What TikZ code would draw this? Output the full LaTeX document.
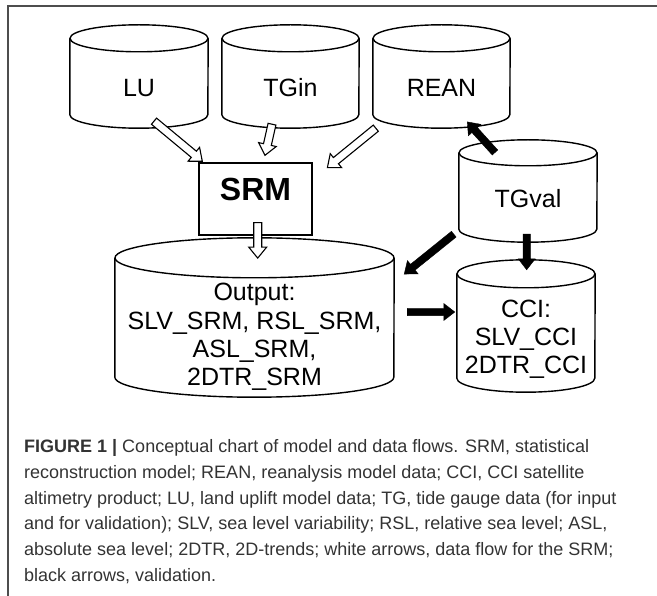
\documentclass[tikz,border=0pt]{standalone}
\usepackage{fontspec}
\setmainfont{Liberation Sans}
\usetikzlibrary{calc}
\definecolor{framegray}{HTML}{4D4D4D}
\definecolor{captiongray}{HTML}{333333}
\newcommand\cylbody[3]{% node, rx, ry
  \draw[cylline] ($(#1.north)+(0,-#3)$) ellipse [x radius=#2, y radius=#3];
  \draw[cylline] ($(#1.north west)+(0,-#3)$) -- ($(#1.south west)+(0,#3)$)
     arc[start angle=180, end angle=360, x radius=#2, y radius=#3]
     -- ($(#1.north east)+(0,-#3)$);
}
\newcommand\flowarrow[6]{% style, start, tip, half shaft, half head, head length
  \path ($(#3)!#6!(#2)$) coordinate (tmpH);
  \filldraw[#1] ($(#2)!#4!90:(#3)$) -- ($(tmpH)!#4!90:(#3)$) -- ($(tmpH)!#5!90:(#3)$)
     -- (#3) -- ($(tmpH)!#5!-90:(#3)$) -- ($(tmpH)!#4!-90:(#3)$) -- ($(#2)!#4!-90:(#3)$) -- cycle;
}
\tikzset{
  cyl/.style={draw=none, inner sep=0pt, text depth=0pt, font=\fontsize{25}{28.4}\selectfont},
  cylline/.style={line width=1.4pt},
  openarrow/.style={draw=black, fill=white, line width=1.1pt, line join=miter},
  valarrow/.style={draw=black, fill=black, line width=0.4pt, line join=miter},
  capline/.style={anchor=base west, inner sep=0pt, text=captiongray, font=\fontsize{18}{25.6}\selectfont},
}
\begin{document}
\begin{tikzpicture}[x=1pt,y=1pt]
\useasboundingbox (0,0) rectangle (657,-596);
% frame
\draw[framegray, line width=1.6pt] (657,-6) -- (8,-6) -- (8,-596);

% cylinders
\node[cyl, minimum width=138pt, minimum height=103pt, text height=40.4pt] (LU) at (139,-76.5) {LU};
\node[cyl, minimum width=137pt, minimum height=103pt, text height=40.4pt] (TGin) at (290.5,-76.5) {TGin};
\node[cyl, minimum width=137pt, minimum height=103pt, text height=40.4pt] (REAN) at (441.5,-76.5) {REAN};
\node[cyl, minimum width=138pt, minimum height=102pt, text height=32.6pt] (TGval) at (528,-191) {TGval};
\node[cyl, minimum width=279pt, minimum height=159pt, text height=137pt] (Output) at (254.5,-317.5)
  {\begin{tabular}[b]{@{}c@{}}Output:\\SLV\_SRM, RSL\_SRM,\\ASL\_SRM,\\2DTR\_SRM\end{tabular}};
\node[cyl, minimum width=138pt, minimum height=132pt, text height=96pt] (CCI) at (526,-326)
  {\begin{tabular}[b]{@{}c@{}}CCI:\\SLV\_CCI\\2DTR\_CCI\end{tabular}};
\cylbody{LU}{69}{13.5}
\cylbody{TGin}{68.5}{13.5}
\cylbody{REAN}{68.5}{13.5}
\cylbody{TGval}{69}{13}
\cylbody{Output}{139.5}{20}
\cylbody{CCI}{69}{14}

% SRM box
\node[draw, line width=1.4pt, minimum width=113pt, minimum height=72pt, inner sep=0pt,
      text height=4pt, text depth=0pt, font=\bfseries\fontsize{32}{36}\selectfont] (SRM) at (255.5,-199) {SRM};

% arrow end points
\coordinate (a1s) at ($(LU.south)+(15,7)$);
\coordinate (a1t) at ($(SRM.north west)+(4,1)$);
\coordinate (a2s) at ($(TGin.south)+(-18.5,4)$);
\coordinate (a2t) at ($(SRM.north)+(9.5,7)$);
\coordinate (a3s) at ($(REAN.south west)+(3,0)$);
\coordinate (a3t) at ($(SRM.north east)+(14.7,-5.3)$);
\coordinate (a4s) at ($(SRM.south)+(2.2,13)$);
\coordinate (a4t) at ($(Output.north)+(3.2,-20.3)$);
\coordinate (b1s) at ($(TGval.north)+(-33,-12.7)$);
\coordinate (b1t) at ($(REAN.south)+(25.8,6.3)$);
\coordinate (b2s) at ($(TGval.south west)+(-5,8)$);
\coordinate (b2t) at ($(Output.north east)+(10,-36.3)$);
\coordinate (b3s) at ($(TGval.south)+(-1.3,8)$);
\coordinate (b3t) at ($(CCI.north)+(0.7,-10)$);
\coordinate (b4s) at ($(Output.east)+(13,5.5)$);
\coordinate (b4t) at ($(CCI.west)+(-2,14)$);

% white arrows: data flow
\flowarrow{openarrow}{a1s}{a1t}{4pt}{9pt}{11pt}
\flowarrow{openarrow}{a2s}{a2t}{4pt}{9pt}{11pt}
\flowarrow{openarrow}{a3s}{a3t}{4pt}{9pt}{11pt}
\flowarrow{openarrow}{a4s}{a4t}{4pt}{9pt}{11pt}
% black arrows: validation
\flowarrow{valarrow}{b1s}{b1t}{3.7pt}{8.5pt}{11pt}
\flowarrow{valarrow}{b2s}{b2t}{3.7pt}{8.5pt}{11pt}
\flowarrow{valarrow}{b3s}{b3t}{3.7pt}{8.5pt}{11pt}
\flowarrow{valarrow}{b4s}{b4t}{3.7pt}{8.5pt}{11pt}

% caption
\node[capline] (cap1) at (24,-453) {\textbf{FIGURE 1 |} Conceptual chart of model and data flows. SRM, statistical};
\node[capline] (cap2) at (24,-478.6) {reconstruction model; REAN, reanalysis model data; CCI, CCI satellite};
\node[capline] (cap3) at (24,-504.2) {altimetry product; LU, land uplift model data; TG, tide gauge data (for input};
\node[capline] (cap4) at (24,-529.8) {and for validation); SLV, sea level variability; RSL, relative sea level; ASL,};
\node[capline] (cap5) at (24,-555.4) {absolute sea level; 2DTR, 2D-trends; white arrows, data flow for the SRM;};
\node[capline] (cap6) at (24,-581) {black arrows, validation.};
\end{tikzpicture}
\end{document}
